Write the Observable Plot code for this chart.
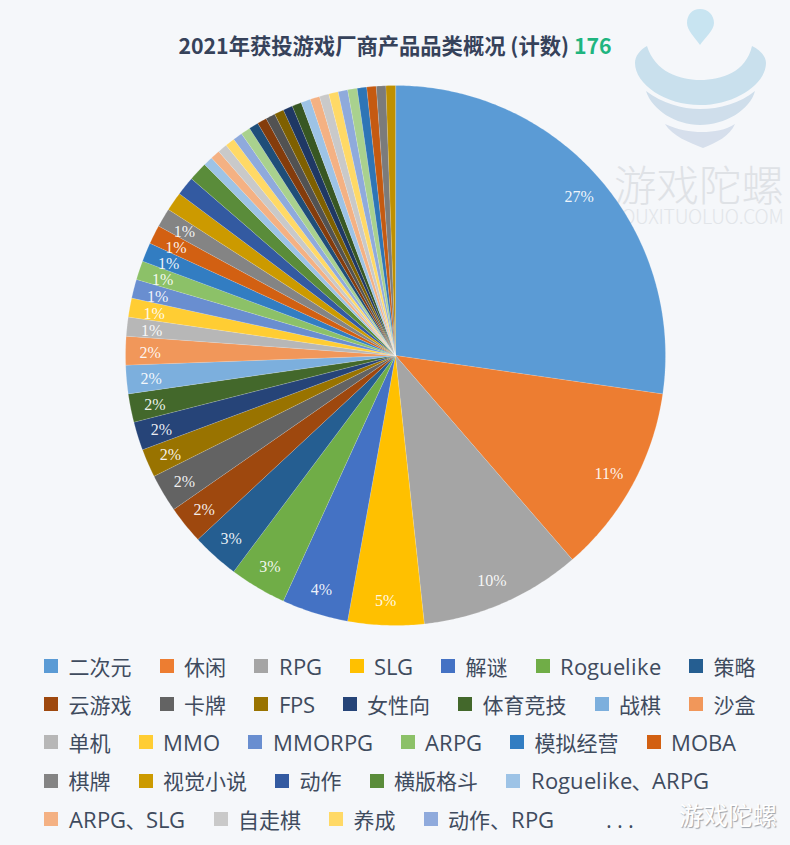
<!DOCTYPE html>
<html lang="zh">
<head>
<meta charset="utf-8">
<script src="https://cdn.jsdelivr.net/npm/d3@7"></script>
<script src="https://cdn.jsdelivr.net/npm/@observablehq/plot@0.6"></script>
<style>
  @font-face { font-family: "LatinWide"; src: local("Open Sans"), local("Open Sans Regular"), local("OpenSans-Regular");
               size-adjust: 105%; unicode-range: U+0020-007E; }
  html, body { margin: 0; padding: 0; background: #f5f7fa; }
  body { width: 790px; height: 845px; overflow: hidden; position: relative;
         font-family: "Noto Sans CJK SC", "Noto Sans", sans-serif; }
  #title { position: absolute; top: 29px; left: 0; width: 790px; text-align: center;
           font-size: 21.3px; line-height: 32px; font-weight: 700; color: #36425a; }
  #title b { color: #1fb57f; font-weight: 700; }
  #chart { position: absolute; top: 75px; left: 0; }
  #chart svg { background: transparent; display: block; }
  #legend { position: absolute; left: 44px; top: 646.5px; width: 725px;
            display: flex; flex-wrap: wrap; column-gap: 28px; row-gap: 0;
            font-family: "LatinWide", "Open Sans", "Noto Sans CJK SC", sans-serif;
            font-size: 21px; line-height: 38.3px; color: #3f4b5e; }
  #legend .item { display: flex; align-items: center; white-space: nowrap; height: 38.3px; }
  #legend .sw { width: 14px; height: 14px; margin-right: 10.5px; flex: none; }
  #legend .more { margin-left: 24px; letter-spacing: 5px; }
  .wm { position: absolute; white-space: nowrap; font-weight: 300; }
</style>
</head>
<body>
<svg width="790" height="240" style="position:absolute;left:0;top:0" aria-hidden="true">
  <path d="M700 9C692 9 687 15 687 23C687 30 695 38 700 45C705 38 714 30 714 23C714 15 708 9 700 9Z" fill="#c8e4f1"/>
  <path d="M647 46C655 72 680 80 700 80C722 80 746 72 752 46C760 50 766 56 766 63C766 84 735 105 700 105C665 105 635 84 635 63C635 56 640 50 647 46Z" fill="#c9e0ed"/>
  <path d="M646 91C662 103 682 109 700 109C720 109 740 103 755 91C750 110 725 125 700 125C676 125 652 110 646 91Z" fill="#cfdeeb"/>
  <path d="M665 124C678 130 690 132 702 132C714 132 726 130 735 124C730 136 716 143 703 148C690 143 672 136 665 124Z" fill="#d6dfec"/>
</svg>
<div class="wm" style="left:614px;top:161px;font-size:42.5px;line-height:44px;color:#dfe2e6;">游戏陀螺</div>
<div class="wm" style="left:612px;top:208px;font-size:19.5px;line-height:16px;letter-spacing:-0.3px;color:#e2e5e9;">YOUXITUOLUO.COM</div>
<div id="title">2021年获投游戏厂商产品品类概况 (计数) <b>176</b></div>
<div id="chart"></div>
<div id="legend"></div>
<div class="wm" style="left:679px;top:798px;font-size:24.5px;line-height:34px;color:#ffffff;font-weight:400;text-shadow:1px 1px 1px #9aa0a8;">游戏陀螺</div>
<script>
// 图例中可见的品类及计数（合计 176）
const categories = ["二次元","休闲","RPG","SLG","解谜","Roguelike","策略",
  "云游戏","卡牌","FPS","女性向","体育竞技","战棋","沙盒",
  "单机","MMO","MMORPG","ARPG","模拟经营","MOBA",
  "棋牌","视觉小说","动作","横版格斗","Roguelike、ARPG",
  "ARPG、SLG","自走棋","养成","动作、RPG"];
const counts = [48,20,17,8,7,6,5,4,4,3,3,3,3,3,2,2,2,2,2,2,2,2,2,2,1,1,1,1,1];
// 图例第 5 行 “...” 之后未显示的 17 个品类，每个计数为 1
const hiddenCategories = d3.range(1, 18).map(i => `其他${i}`);
const hiddenCounts = [1,1,1,1,1,1,1,1,1,1,1,1,1,1,1,1,1];
const colors = ["#5b9bd5","#ed7d31","#a5a5a5","#ffc000","#4472c4","#70ad47","#255e91",
  "#9e480e","#636363","#997300","#264478","#43682b","#7cafdd","#f1975a",
  "#b7b7b7","#ffcd33","#698ed0","#8cc168","#327dc2","#d26012",
  "#848484","#cc9a00","#335aa1","#5a8c3a","#9dc3e6",
  "#f4b183","#c9c9c9","#ffd966","#8faadc",
  "#a9d18e","#1f4e79","#843c0c","#525252","#7f6000","#1f3864","#385723",
  "#9dc3e6","#f4b183","#c9c9c9","#ffd966","#8faadc","#a9d18e","#2e75b6","#c55a11","#7b7b7b","#bf9000"];
// 只有这些品类显示百分比标签
const labelledCount = 21;

const names = categories.concat(hiddenCategories);
const values = counts.concat(hiddenCounts);
const total = d3.sum(values);

// 角度由计数累加而来，顺时针，从正上方开始
const arcs = d3.pie().sort(null).value(d => d)(values);
const toXY = (a, r) => [r * Math.sin(a), r * Math.cos(a)];
const polygon = [];
arcs.forEach((arc, i) => {
  polygon.push({name: names[i], px: 0, py: 0});
  const n = Math.max(2, Math.ceil((arc.endAngle - arc.startAngle) / 0.01));
  for (let k = 0; k <= n; k++) {
    const [px, py] = toXY(arc.startAngle + (arc.endAngle - arc.startAngle) * k / n, 1);
    polygon.push({name: names[i], px, py});
  }
});
const labels = arcs.slice(0, labelledCount).map((arc, i) => {
  const [px, py] = toXY((arc.startAngle + arc.endAngle) / 2, 0.905);
  return {px, py, text: d3.format(".0%")(values[i] / total)};
});

const R = 270, W = 790, H = 560;
const chart = Plot.plot({
  width: W, height: H, margin: 0,
  style: {background: "transparent"},
  x: {domain: [-W / 2 / R, W / 2 / R], range: [0, W], axis: null},
  y: {domain: [-H / 2 / R, H / 2 / R], range: [H, 0], axis: null},
  color: {domain: names, range: colors},
  marks: [
    Plot.line(polygon, {x: "px", y: "py", z: "name", fill: "name",
      stroke: "#ffffff", strokeOpacity: 0.35, strokeWidth: 0.5, curve: "linear-closed"}),
    Plot.text(labels, {x: "px", y: "py", dx: -1, dy: 1.5, text: "text", fill: "#ffffff", fillOpacity: 0.92,
      fontSize: 16, fontFamily: "Liberation Serif"})
  ]
});
document.getElementById("chart").append(chart);

const legend = d3.select("#legend");
categories.forEach((c, i) => {
  const item = legend.append("div").attr("class", "item");
  item.append("span").attr("class", "sw").style("background", colors[i]);
  item.append("span").text(c);
});
legend.append("div").attr("class", "item more").text("...");
</script>
</body>
</html>
